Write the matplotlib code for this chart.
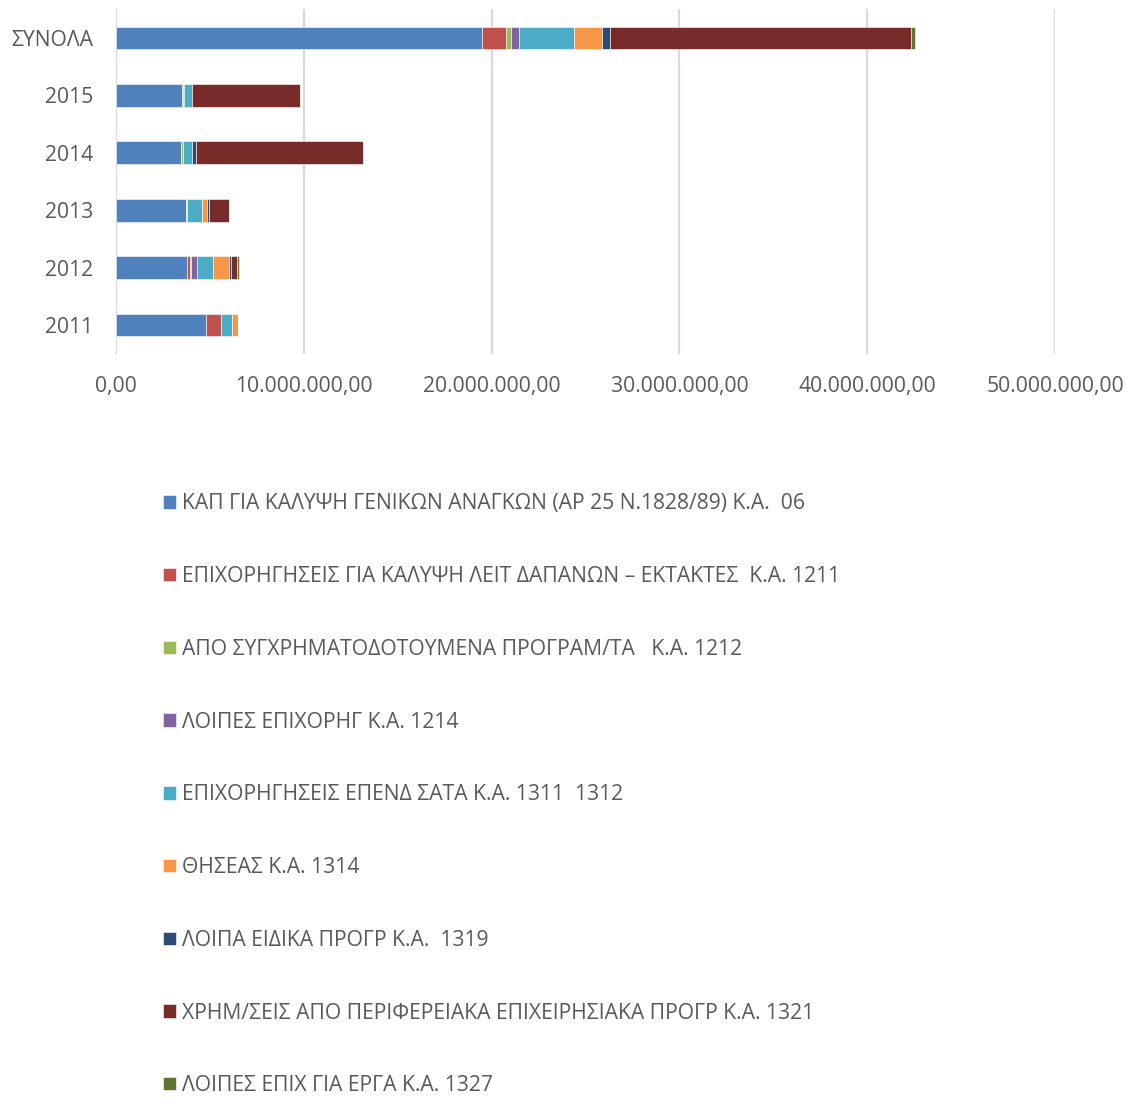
import matplotlib.pyplot as plt
import numpy as np

plt.rcParams['font.family'] = ['Open Sans', 'DejaVu Sans']

# rows, top to bottom
rows = ['ΣΥΝΟΛΑ', '2015', '2014', '2013', '2012', '2011']

series = [
    'ΚΑΠ ΓΙΑ ΚΑΛΥΨΗ ΓΕΝΙΚΩΝ ΑΝΑΓΚΩΝ (ΑΡ 25 Ν.1828/89) Κ.Α.  06',
    'ΕΠΙΧΟΡΗΓΗΣΕΙΣ ΓΙΑ ΚΑΛΥΨΗ ΛΕΙΤ ΔΑΠΑΝΩΝ – ΕΚΤΑΚΤΕΣ  Κ.Α. 1211',
    'ΑΠΟ ΣΥΓΧΡΗΜΑΤΟΔΟΤΟΥΜΕΝΑ ΠΡΟΓΡΑΜ/ΤΑ   Κ.Α. 1212',
    'ΛΟΙΠΕΣ ΕΠΙΧΟΡΗΓ Κ.Α. 1214',
    'ΕΠΙΧΟΡΗΓΗΣΕΙΣ ΕΠΕΝΔ ΣΑΤΑ Κ.Α. 1311  1312',
    'ΘΗΣΕΑΣ Κ.Α. 1314',
    'ΛΟΙΠΑ ΕΙΔΙΚΑ ΠΡΟΓΡ Κ.Α.  1319',
    'ΧΡΗΜ/ΣΕΙΣ ΑΠΟ ΠΕΡΙΦΕΡΕΙΑΚΑ ΕΠΙΧΕΙΡΗΣΙΑΚΑ ΠΡΟΓΡ Κ.Α. 1321',
    'ΛΟΙΠΕΣ ΕΠΙΧ ΓΙΑ ΕΡΓΑ Κ.Α. 1327',
]

# values per series, in order of rows (ΣΥΝΟΛΑ, 2015 ... 2011)
ka06 = [19500000, 3510000, 3480000, 3730000, 3760000, 4790000]
ka1211 = [1280000, 0, 0, 0, 180000, 800000]
ka1212 = [230000, 50000, 70000, 70000, 70000, 0]
ka1214 = [460000, 70000, 0, 0, 300000, 0]
ka1311 = [2930000, 430000, 520000, 760000, 870000, 570000]
ka1314 = [1470000, 0, 0, 270000, 850000, 340000]
ka1319 = [410000, 0, 210000, 100000, 90000, 0]
ka1321 = [16060000, 5720000, 8890000, 1100000, 320000, 0]
ka1327 = [230000, 0, 0, 0, 90000, 0]

data = [ka06, ka1211, ka1212, ka1214, ka1311, ka1314, ka1319, ka1321, ka1327]
colors = ['#4F81BD', '#C0504D', '#9BBB59', '#8064A2', '#4BACC6',
          '#F79646', '#2C4D75', '#772C2A', '#5F7530']

fig = plt.figure(figsize=(11.36, 10.99), dpi=100)
ax = fig.add_axes([116 / 1136, 1 - 353.7 / 1099, (1055 - 116) / 1136, 344.4 / 1099])

y = np.arange(len(rows))
left = np.zeros(len(rows))
for vals, lab, col in zip(data, series, colors):
    vals = np.array(vals, dtype=float)
    ax.barh(y, vals, left=left, height=0.4, color=col, label=lab,
            edgecolor='white', linewidth=0.4, zorder=3)
    left += vals

ax.set_ylim(len(rows) - 0.5, -0.5)
ax.set_xlim(0, 50000000)
ax.set_yticks(y)
ax.set_yticklabels(rows)
ax.set_xticks(np.arange(0, 50000001, 10000000))
ax.set_xticklabels([f'{v:,.2f}'.replace(',', 'X').replace('.', ',').replace('X', '.')
                    for v in np.arange(0, 50000001, 10000000)])
ax.tick_params(axis='both', length=0, labelsize=15.2, colors='#595959')
ax.tick_params(axis='x', pad=16)
ax.tick_params(axis='y', pad=16.5)
ax.xaxis.grid(True, color='#D9D9D9', linewidth=1.6, zorder=0)
for s in ax.spines.values():
    s.set_visible(False)

fig.legend(loc='upper left', bbox_to_anchor=(155 / 1136, 1 - 485 / 1099),
           frameon=False, fontsize=15.2, labelcolor='#595959',
           handlelength=0.6, handleheight=0.6, handletextpad=0.3,
           labelspacing=2.45, borderaxespad=0)

fig.savefig('out.png', dpi=100)
